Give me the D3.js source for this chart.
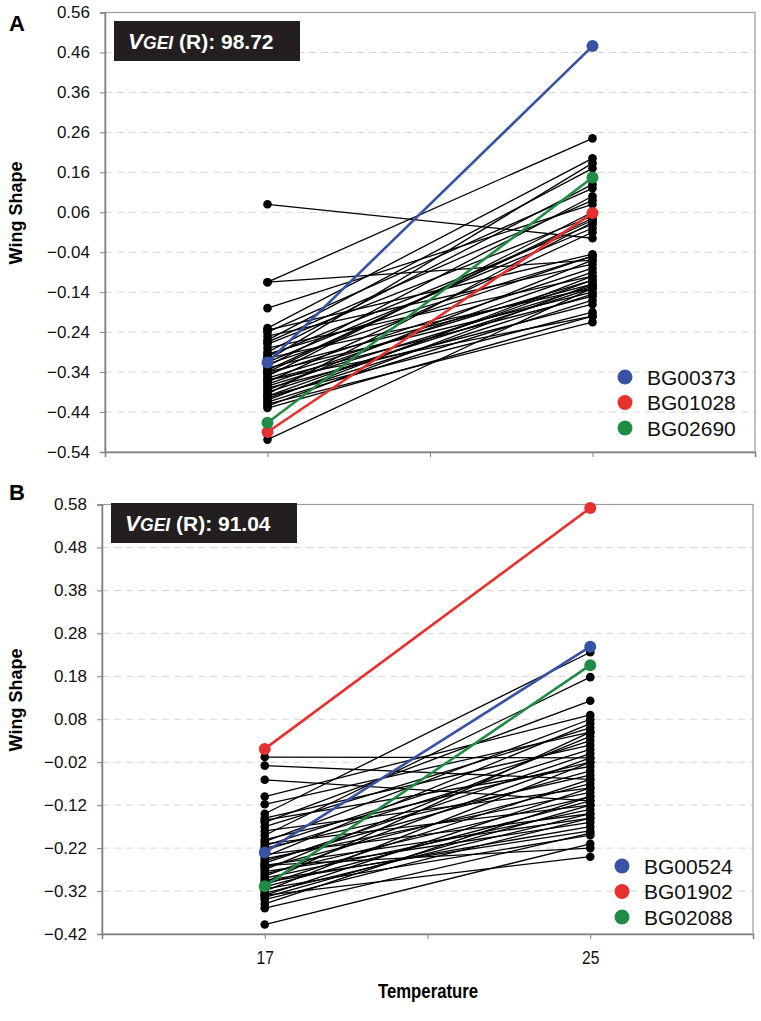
<!DOCTYPE html>
<html><head><meta charset="utf-8">
<script src="https://cdn.jsdelivr.net/npm/d3@7"></script>
<style>
body{margin:0;background:#fff;}
text{font-family:"Liberation Sans",Arial,sans-serif;}
</style></head>
<body><svg id="c" width="761" height="1021"></svg>
<script>
// ---- data ----
const temperatures = [17, 25];
const xTickValues = [13, 17, 21, 25, 29];
const xTickLabels = ["", "17", "", "25", ""];

const yTicksA = [0.56,0.46,0.36,0.26,0.16,0.06,-0.04,-0.14,-0.24,-0.34,-0.44,-0.54];
const yTicksB = [0.58,0.48,0.38,0.28,0.18,0.08,-0.02,-0.12,-0.22,-0.32,-0.42];

// Panel A background genotypes (wing shape at 17 and 25)
const aAt17 = [0.08,-0.115,-0.115,-0.18,-0.23,-0.235,-0.24,-0.25,-0.26,-0.265,-0.27,-0.28,-0.29,-0.295,-0.30,-0.305,-0.31,-0.315,-0.32,-0.325,-0.33,-0.335,-0.34,-0.34,-0.345,-0.35,-0.355,-0.36,-0.36,-0.365,-0.37,-0.375,-0.38,-0.385,-0.39,-0.395,-0.40,-0.40,-0.405,-0.41,-0.415,-0.42,-0.425,-0.43,-0.509];
const aAt25 = [-0.005,0.245,-0.06,0.08,0.195,-0.045,0.12,-0.07,0.17,0.09,0.05,-0.10,0.13,-0.05,0.03,-0.13,0.183,0.02,-0.05,0.10,-0.12,0.04,-0.14,0.045,-0.08,0.06,-0.11,-0.15,-0.20,0.01,-0.09,-0.125,-0.17,-0.06,-0.13,0.035,-0.19,-0.11,-0.145,-0.10,-0.16,-0.215,-0.12,-0.20,-0.13];
const aNames = ["BG00373","BG01028","BG02690"];
const aHiAt17 = [-0.316,-0.49,-0.467];
const aHiAt25 = [0.476,0.058,0.147];

// Panel B background genotypes
const bAt17 = [-0.008,-0.028,-0.061,-0.10,-0.118,-0.14,-0.15,-0.155,-0.16,-0.17,-0.18,-0.19,-0.20,-0.205,-0.21,-0.215,-0.22,-0.225,-0.235,-0.24,-0.245,-0.25,-0.255,-0.26,-0.26,-0.265,-0.27,-0.275,-0.28,-0.285,-0.29,-0.295,-0.30,-0.30,-0.305,-0.31,-0.315,-0.32,-0.325,-0.33,-0.33,-0.335,-0.34,-0.35,-0.36,-0.398];
const bAt25 = [-0.01,-0.06,-0.11,0.09,0.05,0.236,0.02,-0.03,0.123,0.06,-0.08,0.178,-0.02,0.08,-0.12,0.03,-0.05,0.01,-0.14,0.07,-0.09,-0.04,0.0,-0.15,-0.22,-0.07,0.04,-0.16,-0.10,-0.01,-0.13,-0.18,0.05,-0.17,-0.06,-0.11,-0.19,-0.02,-0.14,-0.08,-0.24,-0.12,-0.15,-0.10,-0.185,-0.21];
const bNames = ["BG00524","BG01902","BG02088"];
const bHiAt17 = [-0.23,0.011,-0.309];
const bHiAt25 = [0.249,0.572,0.206];

const hiColors = ["#3953a4","#e8302f","#218c46"];

// ---- drawing ----
const svg = d3.select("#c");

function panel(cfg){
  const {left,right,top,bottom,yTicks,lo,hi,names,h17,h25,letter,vgei,boxX,boxY,legendY,titleY,showX} = cfg;
  const g = svg.append("g");
  const x = d3.scaleLinear().domain([13,29]).range([left,right]);
  const y = d3.scaleLinear().domain([yTicks[yTicks.length-1], yTicks[0]]).range([bottom,top]);

  // gridlines
  g.append("g").selectAll("line").data(yTicks.slice(0,-1)).join("line")
    .attr("x1",left).attr("x2",right).attr("y1",d=>y(d)).attr("y2",d=>y(d))
    .attr("stroke","#d6d6d6").attr("stroke-width",1).attr("stroke-dasharray","7,5");

  // border
  g.append("rect").attr("x",left).attr("y",top).attr("width",right-left).attr("height",bottom-top)
    .attr("fill","none").attr("stroke","#9a9a9a").attr("stroke-width",1.2);

  // y axis
  const yAxis = d3.axisLeft(y).tickValues(yTicks).tickFormat(d3.format(".2f")).tickSize(5).tickPadding(10);
  const ya = g.append("g").attr("transform",`translate(${left},0)`).call(yAxis);
  ya.select(".domain").attr("stroke","#808080").attr("stroke-width",1.5);
  ya.selectAll(".tick line").attr("stroke","#808080");
  ya.selectAll("text").attr("font-size",17).attr("fill","#111").attr("font-family","'Liberation Sans',Arial,sans-serif");

  // x axis
  const xAxis = d3.axisBottom(x).tickValues(xTickValues).tickFormat((d,i)=>showX ? xTickLabels[i] : "").tickSize(5).tickPadding(12);
  const xa = g.append("g").attr("transform",`translate(0,${bottom})`).call(xAxis);
  xa.select(".domain").attr("stroke","#808080").attr("stroke-width",1.5);
  xa.selectAll(".tick line").attr("stroke","#808080");
  xa.selectAll("text").style("font-size","19px").attr("fill","#111")
    .attr("font-family","'Liberation Sans',Arial,sans-serif")
    .attr("transform","scale(0.82,1)");

  // black lines
  const pairs = lo.map((v,i)=>[v,hi[i]]);
  g.append("g").selectAll("line").data(pairs).join("line")
    .attr("x1",x(temperatures[0])).attr("x2",x(temperatures[1]))
    .attr("y1",d=>y(d[0])).attr("y2",d=>y(d[1]))
    .attr("stroke","#000").attr("stroke-width",1.3);
  const dots = [];
  pairs.forEach(p=>{dots.push([temperatures[0],p[0]]);dots.push([temperatures[1],p[1]]);});
  g.append("g").selectAll("circle").data(dots).join("circle")
    .attr("cx",d=>x(d[0])).attr("cy",d=>y(d[1])).attr("r",4.3).attr("fill","#000");

  // highlighted lines
  const hl = names.map((n,i)=>({n,a:h17[i],b:h25[i],c:hiColors[i]}));
  g.append("g").selectAll("line").data(hl).join("line")
    .attr("x1",x(temperatures[0])).attr("x2",x(temperatures[1]))
    .attr("y1",d=>y(d.a)).attr("y2",d=>y(d.b))
    .attr("stroke",d=>d.c).attr("stroke-width",2.6);
  const hd = [];
  hl.forEach(d=>{hd.push({t:temperatures[0],v:d.a,c:d.c});hd.push({t:temperatures[1],v:d.b,c:d.c});});
  g.append("g").selectAll("circle").data(hd).join("circle")
    .attr("cx",d=>x(d.t)).attr("cy",d=>y(d.v)).attr("r",6).attr("fill",d=>d.c);

  // legend
  const lg = g.append("g").selectAll("g").data(hl).join("g")
    .attr("transform",(d,i)=>`translate(${left+520},${legendY+i*25.5})`);
  lg.append("circle").attr("r",7.5).attr("fill",d=>d.c);
  lg.append("text").attr("x",22).attr("y",7.5).attr("font-size",21).attr("fill","#111").text(d=>d.n);

  // VGEI box
  g.append("rect").attr("x",boxX).attr("y",boxY).attr("width",186).attr("height",40).attr("fill","#231f20");
  const t = g.append("text").attr("x",boxX+14).attr("y",boxY+28).attr("fill","#fff").attr("font-weight","bold").attr("font-size",21);
  t.append("tspan").attr("font-style","italic").attr("font-size",22.5).text("V");
  t.append("tspan").attr("font-style","italic").attr("font-size",17.5).text("GEI");
  t.append("tspan").text(" (R): "+vgei);

  // panel letter
  g.append("text").attr("x",9).attr("y",letter.y).attr("font-size",22).attr("font-weight","bold").attr("fill","#000").text(letter.t);

  // y title
  g.append("text").attr("transform",`translate(22,${titleY}) rotate(-90)`).attr("text-anchor","middle")
    .attr("font-size",18).attr("font-weight","bold").attr("fill","#000").text("Wing Shape");
}

panel({left:105,right:755,top:12.5,bottom:452,yTicks:yTicksA,lo:aAt17,hi:aAt25,names:aNames,h17:aHiAt17,h25:aHiAt25,
  letter:{t:"A",y:31},vgei:"98.72",boxX:114,boxY:21,legendY:377,titleY:213,showX:false});
panel({left:102,right:753,top:504.5,bottom:934,yTicks:yTicksB,lo:bAt17,hi:bAt25,names:bNames,h17:bHiAt17,h25:bHiAt25,
  letter:{t:"B",y:500},vgei:"91.04",boxX:111,boxY:503,legendY:866,titleY:700,showX:true});

svg.append("text").attr("x",428).attr("y",998).attr("text-anchor","middle")
  .attr("font-size",20).attr("font-weight","bold").attr("fill","#000")
  .attr("textLength",100).attr("lengthAdjust","spacingAndGlyphs")
  .text("Temperature");
</script></body></html>
